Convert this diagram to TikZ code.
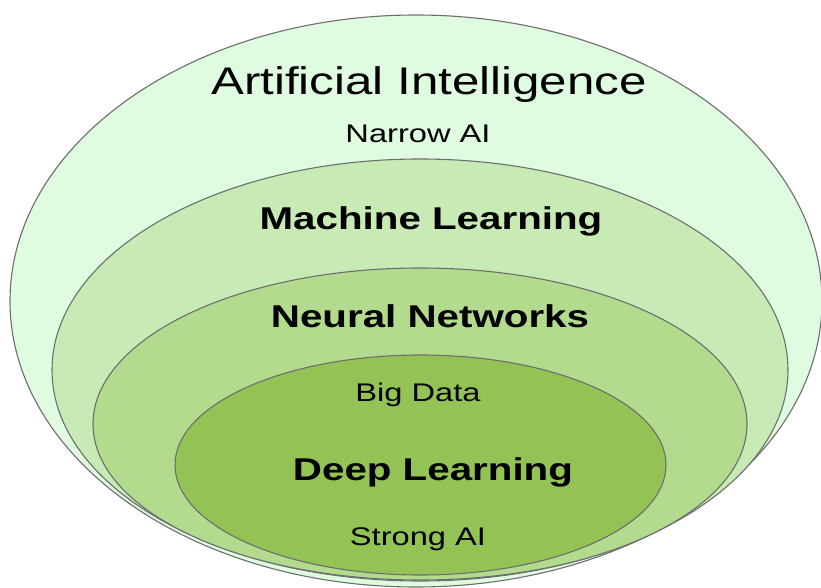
\documentclass[tikz,border=0pt]{standalone}
\usepackage{fontspec}
\setmainfont{Liberation Sans}
\definecolor{cAI}{HTML}{E0FCE0}
\definecolor{cML}{HTML}{C8EAB5}
\definecolor{cNN}{HTML}{B2DB8E}
\definecolor{cDL}{HTML}{93C354}
\definecolor{cEdge}{HTML}{6E6E6E}
\tikzset{
  ring/.style={draw=cEdge, line width=1.1pt},
  lbl/.style={inner sep=0pt, anchor=base, text=black},
}
\newcommand{\wtxt}[2]{\scalebox{1.28}[1]{\fontsize{#1}{#1}\selectfont #2}}
\begin{document}
\begin{tikzpicture}[x=1pt,y=-1pt]
\useasboundingbox (0,0) rectangle (821,588);
\fill[white] (0,0) rectangle (821,588);
\draw[ring, fill=cAI] (416,301) ellipse [x radius=406, y radius=286];
\draw[ring, fill=cML] (420,370) ellipse [x radius=368, y radius=211];
\draw[ring, fill=cNN] (420,424) ellipse [x radius=327, y radius=156];
\draw[ring, fill=cDL] (420.5,465) ellipse [x radius=245.5, y radius=110];
\node[lbl] (ai) at (429,95) {\wtxt{38.5}{Artificial Intelligence}};
\node[lbl] (nai) at (418,143) {\wtxt{25.5}{Narrow AI}};
\node[lbl] (ml) at (431,229) {\wtxt{31.5}{\bfseries Machine Learning}};
\node[lbl] (nn) at (430,327) {\wtxt{31.5}{\bfseries Neural Networks}};
\node[lbl] (bd) at (418,401) {\wtxt{25.5}{Big Data}};
\node[lbl] (dl) at (433,480) {\wtxt{31.5}{\bfseries Deep Learning}};
\node[lbl] (sai) at (418,545) {\wtxt{25.5}{Strong AI}};
\end{tikzpicture}
\end{document}
